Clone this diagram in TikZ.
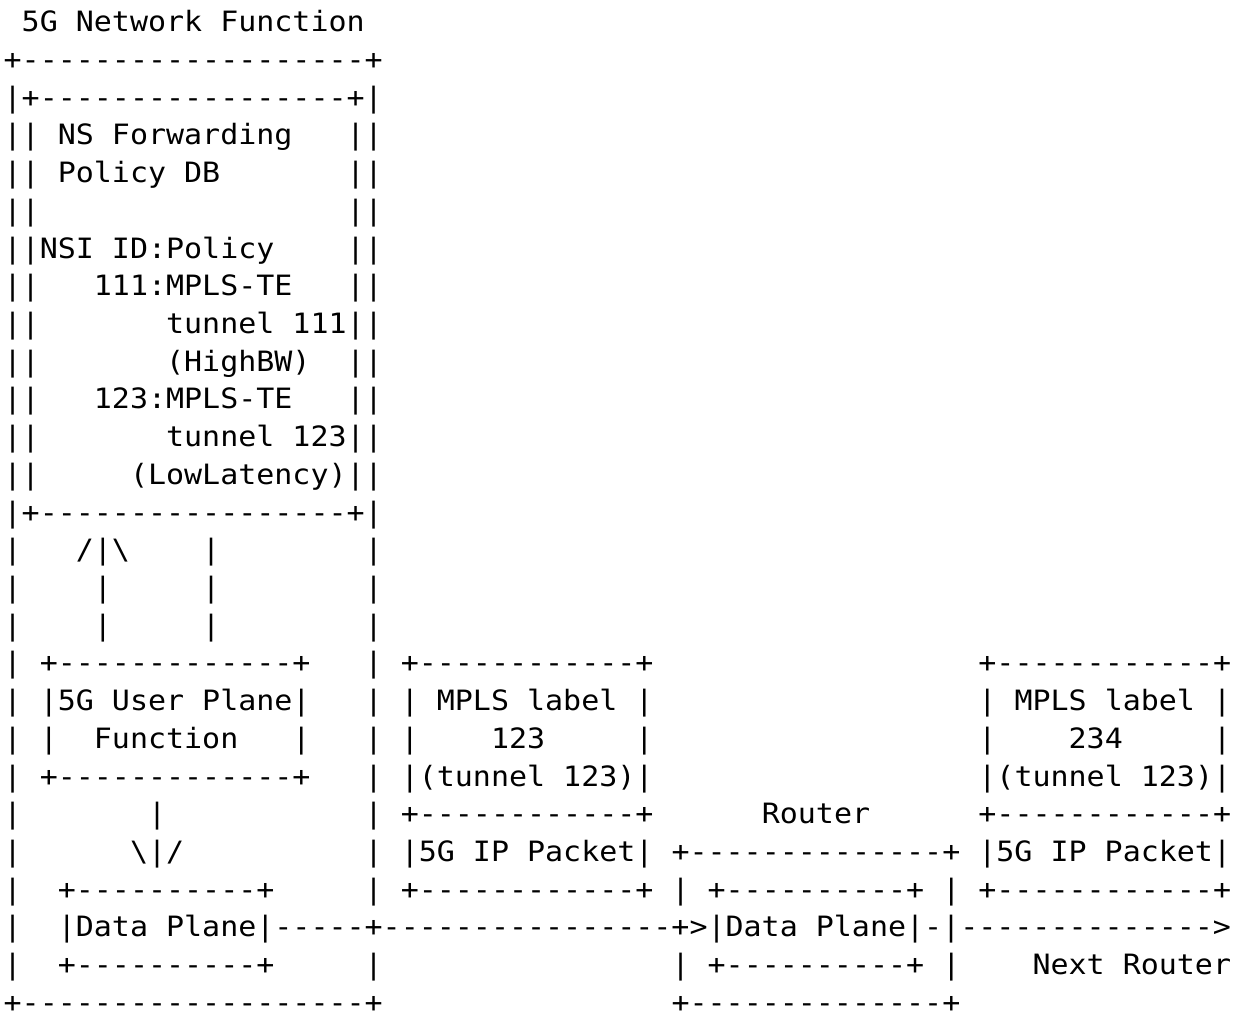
\documentclass[tikz,border=0pt]{standalone}
\usepackage{fontspec}
\usepackage{graphicx}
\setmonofont{DejaVu Sans Mono}

% one line of the fixed-width drawing: name, line number, characters
\newcommand\drawrow[4][]{%
  \node[asciirow,#1] (#2) at (3.67,{31.7+37.72*#3}) {\scalebox{1.0708}[1]{#4}};}

\begin{document}
\begin{tikzpicture}[x=1pt,y=-1pt,
  asciirow/.style={anchor=base west, inner sep=0pt, outer sep=0pt,
    text=black, font=\ttfamily\fontsize{28}{34}\selectfont}]
\fill[white] (0,0) rectangle (1242,1011);
\useasboundingbox (0,0) rectangle (1242,1011);

\drawrow{r00}{0}{~5G~Network~Function}
\drawrow{r01}{1}{+-------------------+}
\drawrow{r02}{2}{|+-----------------+|}
\drawrow{r03}{3}{||~NS~Forwarding~~~||}
\drawrow{r04}{4}{||~Policy~DB~~~~~~~||}
\drawrow{r05}{5}{||~~~~~~~~~~~~~~~~~||}
\drawrow{r06}{6}{||NSI~ID:Policy~~~~||}
\drawrow{r07}{7}{||~~~111:MPLS-TE~~~||}
\drawrow{r08}{8}{||~~~~~~~tunnel~111||}
\drawrow{r09}{9}{||~~~~~~~(HighBW)~~||}
\drawrow{r10}{10}{||~~~123:MPLS-TE~~~||}
\drawrow{r11}{11}{||~~~~~~~tunnel~123||}
\drawrow{r12}{12}{||~~~~~(LowLatency)||}
\drawrow{r13}{13}{|+-----------------+|}
\drawrow{r14}{14}{|~~~/|\textbackslash~~~~|~~~~~~~~|}
\drawrow{r15}{15}{|~~~~|~~~~~|~~~~~~~~|}
\drawrow{r16}{16}{|~~~~|~~~~~|~~~~~~~~|}
\drawrow{r17}{17}{|~+-------------+~~~|~+------------+~~~~~~~~~~~~~~~~~~+------------+}
\drawrow{r18}{18}{|~|5G~User~Plane|~~~|~|~MPLS~label~|~~~~~~~~~~~~~~~~~~|~MPLS~label~|}
\drawrow{r19}{19}{|~|~~Function~~~|~~~|~|~~~~123~~~~~|~~~~~~~~~~~~~~~~~~|~~~~234~~~~~|}
\drawrow{r20}{20}{|~+-------------+~~~|~|(tunnel~123)|~~~~~~~~~~~~~~~~~~|(tunnel~123)|}
\drawrow{r21}{21}{|~~~~~~~|~~~~~~~~~~~|~+------------+~~~~~~Router~~~~~~+------------+}
\drawrow{r22}{22}{|~~~~~~\textbackslash|/~~~~~~~~~~|~|5G~IP~Packet|~+--------------+~|5G~IP~Packet|}
\drawrow{r23}{23}{|~~+----------+~~~~~|~+------------+~|~+----------+~|~+------------+}
\drawrow{r24}{24}{|~~|Data~Plane|-----+----------------+>|Data~Plane|-|-------------->}
\drawrow{r25}{25}{|~~+----------+~~~~~|~~~~~~~~~~~~~~~~|~+----------+~|~~~~Next~Router}
\drawrow[text depth=0pt]{r26}{26}{+-------------------+~~~~~~~~~~~~~~~~+--------------+}
\end{tikzpicture}
\end{document}
